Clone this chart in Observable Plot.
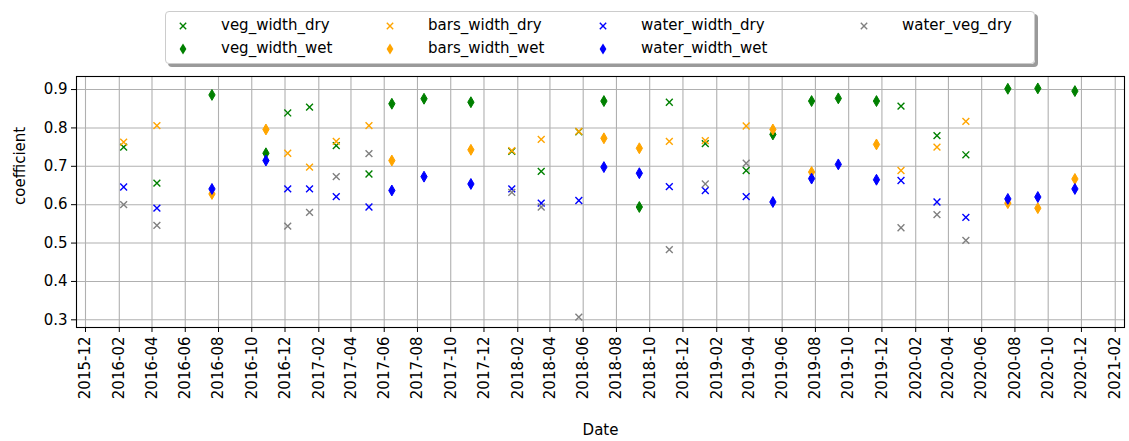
<!DOCTYPE html>
<html>
<head>
<meta charset="utf-8">
<script src="https://cdn.jsdelivr.net/npm/d3@7"></script>
<script src="https://cdn.jsdelivr.net/npm/@observablehq/plot@0.6"></script>
<style>
  html, body { margin: 0; padding: 0; background: #fff; }
  #wrap { position: relative; width: 1129px; height: 441px; font-family: "DejaVu Sans", sans-serif; }
  #legend {
    position: absolute; left: 165px; top: 11px; width: 870px; height: 53px;
    background: rgba(255,255,255,0.9); border: 1px solid #cccccc; border-radius: 4px;
    box-shadow: 3px 3px 0 #9a9a9a; box-sizing: border-box;
  }
  .item { position: absolute; font-size: 15px; line-height: 18px; color: #000; white-space: nowrap; }
  .item svg { position: absolute; overflow: visible; }
</style>
</head>
<body>
<div id="wrap"></div>
<script>
// Sampling dates for the dry-season and wet-season observations
const dryDates = ["2016-02-09", "2016-04-10", "2016-12-06", "2017-01-15", "2017-03-05",
  "2017-05-04", "2018-01-21", "2018-03-16", "2018-05-24", "2018-11-06", "2019-01-11",
  "2019-03-27", "2020-01-05", "2020-03-11", "2020-05-03"];
const wetDates = ["2016-07-20", "2016-10-27", "2017-06-15", "2017-08-13", "2017-11-07",
  "2018-07-09", "2018-09-12", "2019-05-15", "2019-07-25", "2019-09-12", "2019-11-21",
  "2020-07-19", "2020-09-12", "2020-11-19"];

// Coefficients per series (null = no observation)
const vegWidthDry   = [0.750, 0.656, 0.839, 0.854, 0.754, 0.680, 0.739, 0.687, 0.790, 0.867, 0.759, 0.689, 0.857, 0.780, 0.730];
const barsWidthDry  = [0.763, 0.806, 0.734, 0.698, 0.765, 0.806, 0.741, 0.770, 0.791, 0.765, 0.767, 0.805, 0.689, 0.750, 0.817];
const waterWidthDry = [0.646, 0.591, 0.641, 0.641, 0.621, 0.594, 0.641, 0.604, 0.611, 0.647, 0.637, 0.621, 0.663, 0.607, 0.567];
const waterVegDry   = [0.600, 0.546, 0.544, 0.580, 0.673, 0.733, 0.632, 0.594, 0.307, 0.483, 0.654, 0.708, 0.540, 0.574, 0.507];

const vegWidthWet   = [0.886, 0.734, 0.863, 0.876, 0.867, 0.870, 0.594, 0.783, 0.870, 0.877, 0.870, 0.902, 0.903, 0.896];
const barsWidthWet  = [0.628, 0.796, 0.715, null, 0.743, 0.773, 0.747, 0.796, 0.685, null, 0.757, 0.604, 0.591, 0.667];
const waterWidthWet = [0.641, 0.715, 0.637, 0.673, 0.654, 0.698, 0.682, 0.607, 0.668, 0.705, 0.665, 0.615, 0.620, 0.641];

// Axis ticks
const xTickLabels = ["2015-12", "2016-02", "2016-04", "2016-06", "2016-08", "2016-10", "2016-12",
  "2017-02", "2017-04", "2017-06", "2017-08", "2017-10", "2017-12", "2018-02", "2018-04",
  "2018-06", "2018-08", "2018-10", "2018-12", "2019-02", "2019-04", "2019-06", "2019-08",
  "2019-10", "2019-12", "2020-02", "2020-04", "2020-06", "2020-08", "2020-10", "2020-12", "2021-02"];
const yTicks = [0.3, 0.4, 0.5, 0.6, 0.7, 0.8, 0.9];

// Series definitions, in drawing order
const series = [
  {name: "veg_width_dry",   dates: dryDates, values: vegWidthDry,   color: "green",  symbol: "times"},
  {name: "veg_width_wet",   dates: wetDates, values: vegWidthWet,   color: "green",  symbol: "diamond"},
  {name: "bars_width_dry",  dates: dryDates, values: barsWidthDry,  color: "orange", symbol: "times"},
  {name: "bars_width_wet",  dates: wetDates, values: barsWidthWet,  color: "orange", symbol: "diamond"},
  {name: "water_width_dry", dates: dryDates, values: waterWidthDry, color: "blue",   symbol: "times"},
  {name: "water_width_wet", dates: wetDates, values: waterWidthWet, color: "blue",   symbol: "diamond"},
  {name: "water_veg_dry",   dates: dryDates, values: waterVegDry,   color: "gray",   symbol: "times"}
];

const parse = d3.utcParse("%Y-%m-%d");
const parseMonth = d3.utcParse("%Y-%m");
const xTicks = xTickLabels.map(parseMonth);

const dotMarks = series.map(s => {
  const rows = s.dates.map((d, i) => ({date: parse(d), value: s.values[i]})).filter(r => r.value != null);
  return s.symbol === "times"
    ? Plot.dot(rows, {x: "date", y: "value", symbol: "times", r: 3.2, stroke: s.color, strokeWidth: 1.4})
    : Plot.dot(rows, {x: "date", y: "value", symbol: "diamond", r: 3.3, fill: s.color, stroke: s.color, strokeWidth: 1});
});

const chart = Plot.plot({
  width: 1129,
  height: 441,
  marginLeft: 76,
  marginRight: 5,
  marginTop: 76,
  marginBottom: 114,
  style: {fontFamily: "DejaVu Sans, sans-serif", fontSize: "15px", color: "#000", background: "#fff"},
  x: {type: "utc", domain: [new Date(Date.UTC(2015, 10, 14, 12)), new Date(Date.UTC(2021, 1, 18))]},
  y: {domain: [0.280, 0.934]},
  marks: [
    Plot.gridX(xTicks, {stroke: "#b0b0b0", strokeOpacity: 1, strokeWidth: 1.1}),
    Plot.gridY(yTicks, {stroke: "#b0b0b0", strokeOpacity: 1, strokeWidth: 1.1}),
    ...dotMarks,
    Plot.frame({stroke: "#000", strokeWidth: 1.1}),
    Plot.axisX({ticks: xTicks, tickFormat: d3.utcFormat("%Y-%m"), tickRotate: -90, tickSize: 5,
      tickPadding: 4, fontSize: 15, label: null}),
    Plot.axisY({ticks: yTicks, tickFormat: d3.format(".1f"), tickSize: 5, tickPadding: 4, fontSize: 15,
      label: null}),
    // Axis titles
    Plot.text(["Date"], {frameAnchor: "bottom", dy: 107, fontSize: 15, fill: "#000"}),
    Plot.text(["coefficient"], {frameAnchor: "left", dx: -56, dy: 3, rotate: -90, fontSize: 15, fill: "#000"})
  ]
});

const wrap = document.getElementById("wrap");
wrap.appendChild(chart);

// Legend: four columns, two rows, column-major order
const legend = document.createElement("div");
legend.id = "legend";
wrap.appendChild(legend);
const colText = [55, 262, 475, 736];
const rowTop = [4, 27];
series.forEach((s, i) => {
  const col = Math.floor(i / 2), row = i % 2;
  const item = document.createElement("div");
  item.className = "item";
  item.style.left = colText[col] + "px";
  item.style.top = rowTop[row] + "px";
  item.textContent = s.name;
  const ns = "http://www.w3.org/2000/svg";
  const svg = document.createElementNS(ns, "svg");
  svg.setAttribute("width", 1); svg.setAttribute("height", 1);
  svg.style.left = "-38px"; svg.style.top = "10px";
  const shape = document.createElementNS(ns, "path");
  if (s.symbol === "times") {
    shape.setAttribute("d", "M-3.2,-3.2L3.2,3.2M-3.2,3.2L3.2,-3.2");
    shape.setAttribute("stroke", s.color);
    shape.setAttribute("stroke-width", 1.4);
    shape.setAttribute("fill", "none");
  } else {
    shape.setAttribute("d", "M0,-5.5L3.4,0L0,5.5L-3.4,0Z");
    shape.setAttribute("fill", s.color);
  }
  svg.appendChild(shape);
  item.appendChild(svg);
  legend.appendChild(item);
});
</script>
</body>
</html>
